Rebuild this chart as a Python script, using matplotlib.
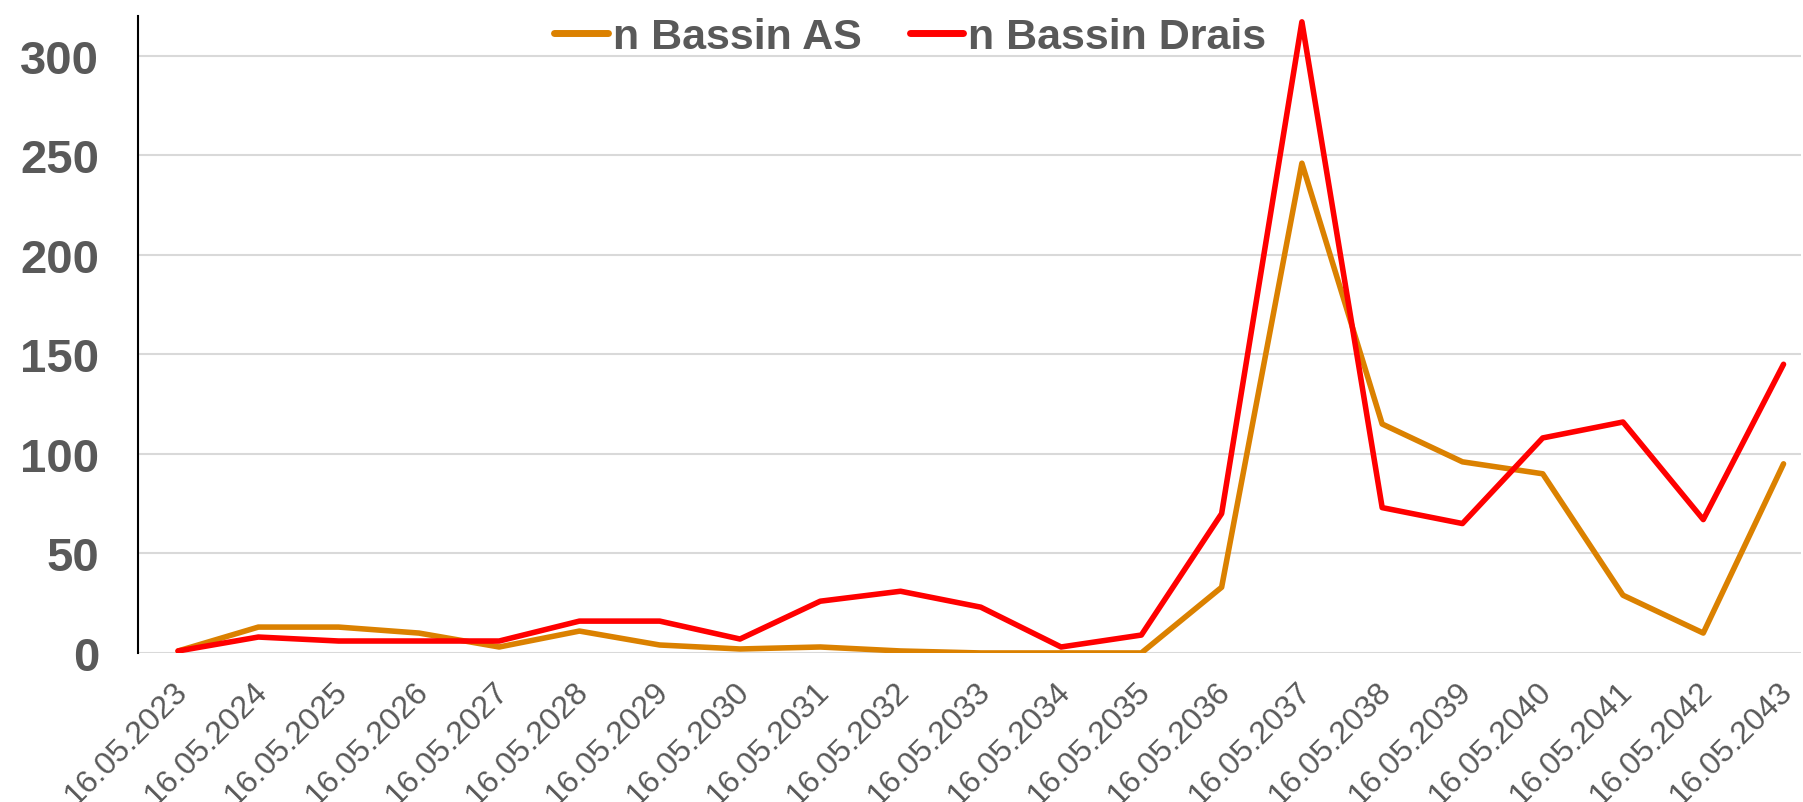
import matplotlib
matplotlib.use("Agg")
import matplotlib.pyplot as plt
import matplotlib.transforms as mtransforms

dates = ["16.05.2023", "16.05.2024", "16.05.2025", "16.05.2026", "16.05.2027",
         "16.05.2028", "16.05.2029", "16.05.2030", "16.05.2031", "16.05.2032",
         "16.05.2033", "16.05.2034", "16.05.2035", "16.05.2036", "16.05.2037",
         "16.05.2038", "16.05.2039", "16.05.2040", "16.05.2041", "16.05.2042",
         "16.05.2043"]
bassin_as = [1, 13, 13, 10, 3, 11, 4, 2, 3, 1, 0, 0, 0, 33, 246, 115, 96, 90, 29, 10, 95]
bassin_drais = [1, 8, 6, 6, 6, 16, 16, 7, 26, 31, 23, 3, 9, 70, 317, 73, 65, 108, 116, 67, 145]
yticks = [0, 50, 100, 150, 200, 250, 300]

plt.rcParams['font.family'] = ['Liberation Sans', 'DejaVu Sans']
grey = '#595959'

fig = plt.figure(figsize=(18.03, 8.03), dpi=100)
ax = fig.add_axes([0.0765, 0.1856, 0.9225, 0.7934])

x = list(range(len(dates)))
ax.plot(x, bassin_as, color='#DB8100', lw=4.0, solid_joinstyle='round',
        solid_capstyle='round', label='n Bassin AS', zorder=3)
ax.plot(x, bassin_drais, color='#FF0000', lw=4.0, solid_joinstyle='round',
        solid_capstyle='round', label='n Bassin Drais', zorder=4)

ax.set_xlim(-0.5, 20.22)
ax.set_ylim(0, 320)
ax.set_yticks(yticks)
ax.set_yticklabels([str(v) for v in yticks], fontsize=34, fontweight='bold', color=grey)
ax.set_xticks(x)
ax.set_xticklabels(dates, rotation=45, ha='right', rotation_mode='anchor',
                   fontsize=23, color=grey)
ax.tick_params(axis='both', length=0)
ax.tick_params(axis='y', pad=28)
ax.tick_params(axis='x', pad=15)
shift = mtransforms.ScaledTranslation(-0.06, -0.02, fig.dpi_scale_trans)
for lab in ax.get_xticklabels():
    lab.set_transform(lab.get_transform() + shift)
ax.grid(axis='y', color='#D9D9D9', lw=1.5, zorder=0)
ax.set_axisbelow(True)
for s in ['top', 'right', 'bottom']:
    ax.spines[s].set_visible(False)
ax.spines['left'].set_color('black')
ax.spines['left'].set_linewidth(1.5)

leg = fig.legend(loc='center', bbox_to_anchor=(0.505, 0.953), ncol=2, frameon=False,
                 handlelength=1.25, handletextpad=0.12, columnspacing=1.1,
                 prop={'size': 31, 'weight': 'bold'})
for t in leg.get_texts():
    t.set_color(grey)
for h in leg.get_lines():
    h.set_linewidth(5)
    h.set_solid_capstyle('round')

fig.savefig('out.png', dpi=100)
